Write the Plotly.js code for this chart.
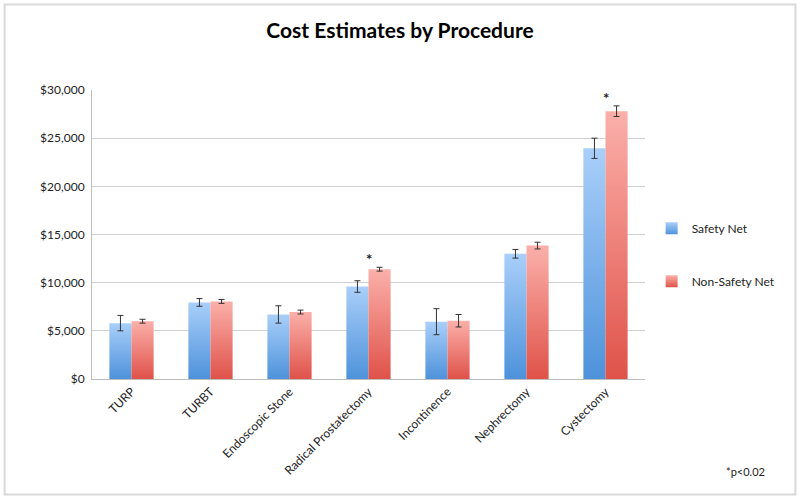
<!DOCTYPE html>
<html>
<head>
<meta charset="utf-8">
<script src="https://cdn.plot.ly/plotly-3.0.1.min.js"></script>
<style>
  html, body { margin: 0; padding: 0; background: #fff; }
  #chart { width: 800px; height: 501px; }
</style>
</head>
<body>
<div id="chart"></div>
<script>
var procedures = ['TURP', 'TURBT', 'Endoscopic Stone', 'Radical Prostatectomy', 'Incontinence', 'Nephrectomy', 'Cystectomy'];
var safetyNet = [5800, 7950, 6700, 9600, 5950, 13000, 23950]; // Safety Net mean cost
var safetyNetErr = [800, 400, 900, 600, 1350, 450, 1050];
var nonSafetyNet = [6000, 8050, 6950, 11400, 6050, 13850, 27800]; // Non-Safety Net mean cost
var nonSafetyNetErr = [200, 200, 200, 200, 650, 350, 550];
var sigMarks = ['', '', '', '*', '', '', '*']; // *p<0.02

var FONT = 'Lato, "Open Sans", "DejaVu Sans", sans-serif';

var traces = [{
    type: 'bar',
    name: 'Safety Net',
    x: procedures,
    y: safetyNet,
    legendgroup: 'sn',
    marker: {color: '#78aeea'},
    error_y: {type: 'data', array: safetyNetErr, visible: true, color: '#333', thickness: 1, width: 3}
}, {
    type: 'bar',
    name: 'Non-Safety Net',
    x: procedures,
    y: nonSafetyNet,
    legendgroup: 'nsn',
    marker: {color: '#ee7e76'},
    error_y: {type: 'data', array: nonSafetyNetErr, visible: true, color: '#333', thickness: 1, width: 3}
}];

// asterisks above the significant groups
var annotations = [];
procedures.forEach(function(p, i) {
    if (!sigMarks[i]) return;
    annotations.push({
        x: p, y: nonSafetyNet[i] + nonSafetyNetErr[i],
        xref: 'x', yref: 'y',
        text: '<b>' + sigMarks[i] + '</b>', showarrow: false,
        yanchor: 'bottom', yshift: -3,
        font: {family: FONT, size: 15, color: '#222'}
    });
});
annotations.push({
    x: 1.22, y: -0.32, xref: 'paper', yref: 'paper',
    xanchor: 'right', yanchor: 'middle',
    text: '*p<0.02', showarrow: false,
    font: {family: FONT, size: 11, color: '#222'}
});

var layout = {
    width: 800, height: 501,
    margin: {l: 92, r: 155, t: 90, b: 122},
    paper_bgcolor: '#fff',
    plot_bgcolor: '#fff',
    font: {family: FONT, size: 12, color: '#222'},
    title: {
        text: '<b>Cost Estimates by Procedure</b>',
        x: 0.5, xref: 'container', xanchor: 'center',
        y: 0.938, yref: 'container', yanchor: 'middle',
        font: {family: FONT, size: 21, color: '#000'}
    },
    barmode: 'group',
    bargap: 0.44,
    bargroupgap: 0,
    showlegend: true,
    legend: {
        x: 1.012, xanchor: 'left', y: 0.43, yanchor: 'middle',
        traceorder: 'grouped', tracegroupgap: 34,
        font: {family: FONT, size: 12, color: '#222'},
        bgcolor: 'rgba(0,0,0,0)'
    },
    xaxis: {
        tickangle: -45,
        showgrid: false,
        showline: true, linecolor: '#bdbdbd', linewidth: 1,
        ticks: '',
        tickfont: {family: FONT, size: 12, color: '#222'}
    },
    yaxis: {
        range: [0, 30000],
        dtick: 5000,
        tickprefix: '$', tickformat: ',',
        showgrid: true, gridcolor: '#d0d0d0', gridwidth: 1,
        showline: true, linecolor: '#bdbdbd', linewidth: 1,
        zeroline: false,
        ticks: '',
        ticklabelstandoff: 4,
        tickfont: {family: FONT, size: 12, color: '#222'}
    },
    shapes: [{
        // chart frame
        type: 'rect', xref: 'paper', yref: 'paper',
        x0: -0.158, x1: 1.272, y0: -0.4, y1: 1.296,
        line: {color: '#d9d9d9', width: 2}
    }],
    annotations: annotations
};

function addGradients(gd) {
    var svg = gd.querySelector('.main-svg');
    var ns = 'http://www.w3.org/2000/svg';
    var defs = svg.querySelector('defs');
    var grads = [['gradSN', '#a9cff9', '#4e92db'], ['gradNSN', '#fbb0aa', '#df5249']];
    grads.forEach(function(g) {
        var lg = document.createElementNS(ns, 'linearGradient');
        lg.setAttribute('id', g[0]);
        lg.setAttribute('x1', '0'); lg.setAttribute('y1', '0');
        lg.setAttribute('x2', '0'); lg.setAttribute('y2', '1');
        [[0, g[1]], [1, g[2]]].forEach(function(s) {
            var st = document.createElementNS(ns, 'stop');
            st.setAttribute('offset', s[0]);
            st.setAttribute('stop-color', s[1]);
            lg.appendChild(st);
        });
        defs.appendChild(lg);
    });
    var barTraces = gd.querySelectorAll('.barlayer .trace');
    barTraces.forEach(function(t, i) {
        t.querySelectorAll('.point path').forEach(function(p) {
            p.style.fill = 'url(#' + grads[i][0] + ')';
        });
    });
    var legTraces = gd.querySelectorAll('.legend .traces');
    legTraces.forEach(function(t, i) {
        t.querySelectorAll('.legendpoints path').forEach(function(p) {
            p.style.fill = 'url(#' + grads[i][0] + ')';
        });
    });
}

Plotly.newPlot('chart', traces, layout, {displayModeBar: false, staticPlot: true}).then(addGradients);
</script>
</body>
</html>
